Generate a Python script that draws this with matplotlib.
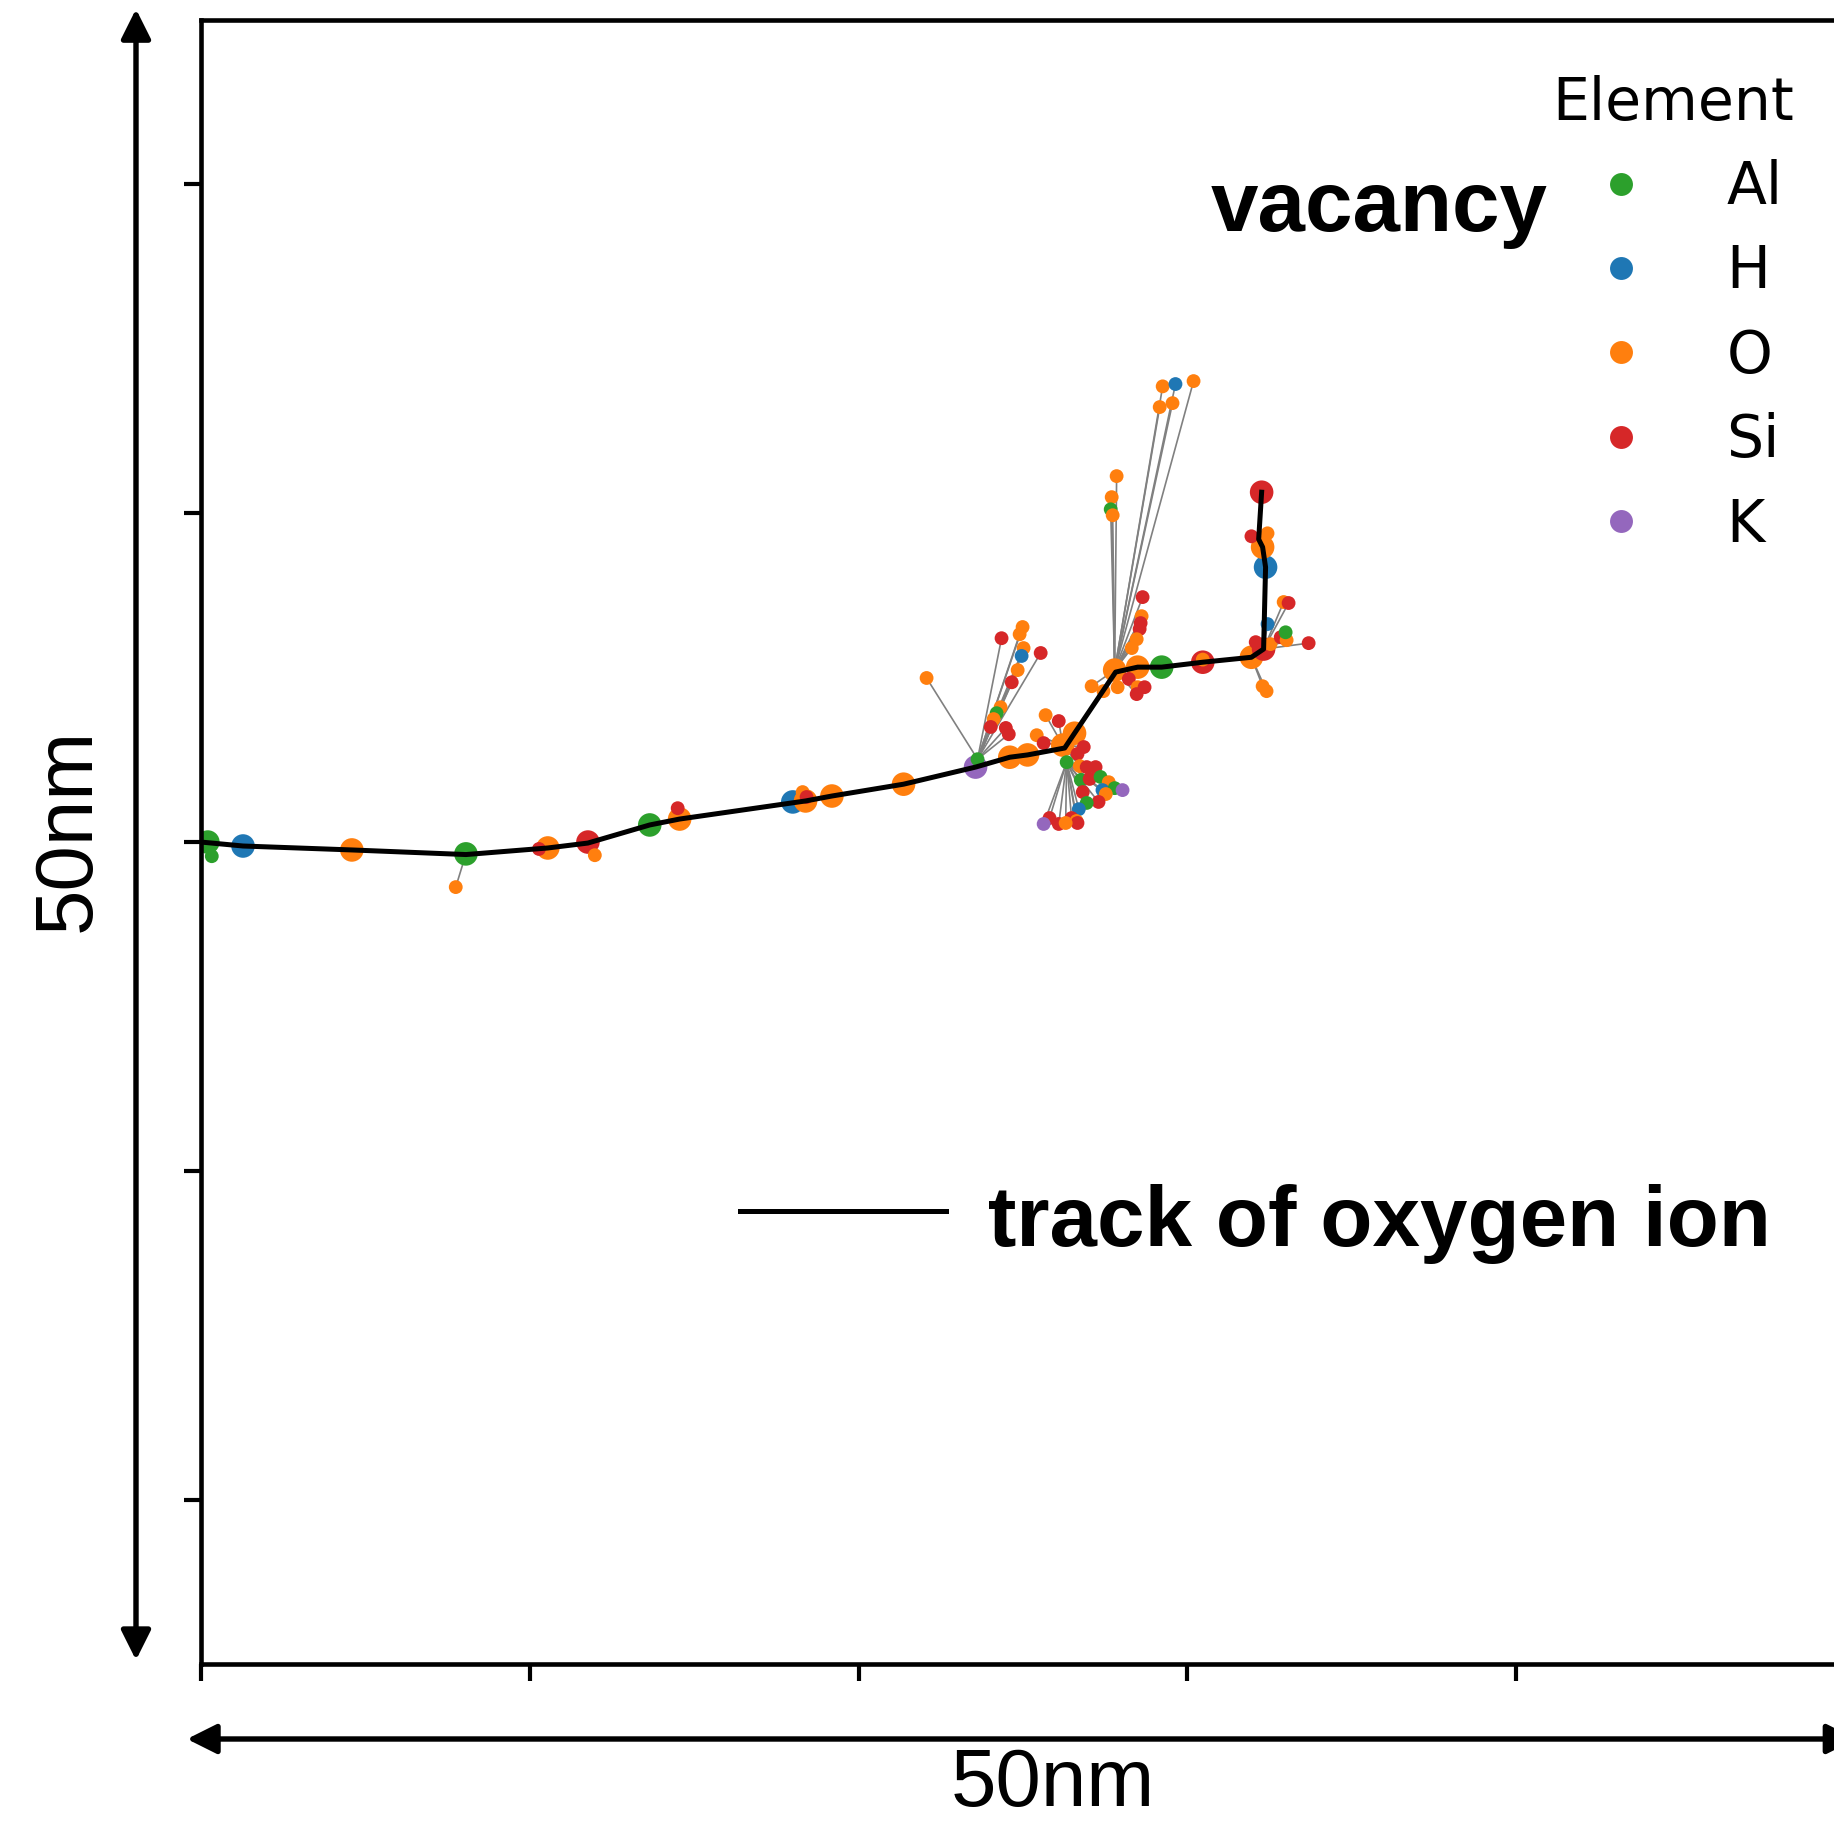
import matplotlib.pyplot as plt
from matplotlib.lines import Line2D

elements = ["Al", "H", "O", "Si", "K"]
element_colors = ["#2ca02c", "#1f77b4", "#ff7f0e", "#d62728", "#9467bd"]

# path of the oxygen ion (angstrom)
track_x = [0, 12.8, 45.9, 80.6, 105.5, 117.7, 136.5, 145.6, 183.9, 191.9, 213.7,
           235.6, 246.0, 251.4, 262.7, 265.7, 278.2, 284.9, 292.2, 304.7, 319.5,
           323.2, 323.8, 322.9, 321.7, 322.6]
track_y = [0, -1.2, -2.4, -3.8, -1.8, -0.3, 5.2, 7.0, 12.5, 14.0, 17.6,
           22.8, 25.8, 26.5, 28.6, 33.1, 51.7, 53.2, 53.2, 54.7, 56.2,
           58.7, 83.6, 89.7, 92.1, 106.4]

# primary knock-ons along the track
pka_x = [2.1, 12.8, 45.9, 80.6, 105.5, 117.7, 136.5, 145.6, 180.0, 183.9, 191.9,
         213.7, 235.6, 246.0, 251.4, 262.1, 265.7, 277.9, 284.9, 292.2, 304.7,
         319.5, 323.2, 323.8, 322.9, 322.6]
pka_y = [0.0, -1.2, -2.4, -3.6, -1.8, 0.0, 5.2, 7.0, 12.2, 12.5, 14.0,
         17.6, 22.8, 25.8, 26.5, 29.5, 33.1, 52.3, 53.2, 53.2, 54.7,
         56.2, 58.7, 83.6, 89.7, 106.4]
pka_el = ["Al", "H", "O", "Al", "O", "Si", "Al", "O", "H", "O", "O",
          "O", "K", "O", "O", "O", "O", "O", "O", "Al", "Si",
          "O", "Si", "H", "O", "Si"]

# recoils, source = index in pka list
rec_x = [3.3, 77.5, 102.8, 119.8, 145.0, 183.0, 184.2, 236.2,
         256.9, 260.9, 254.2, 256.3, 268.5, 266.6, 263.3, 267.3,
         270.9, 274.5, 278.8, 282.2, 284.9, 287.0, 284.6, 278.5, 277.0, 276.7,
         277.3, 292.5, 296.4, 301.9, 291.6, 295.5, 286.4, 286.1, 285.8, 285.5,
         284.6, 283.1,
         304.7, 322.9, 324.1,
         320.8, 325.3, 336.9, 328.4, 330.2, 329.9, 324.4, 329.3, 330.8,
         319.5, 324.4]
rec_y = [-4.3, -13.7, -2.1, -4.0, 10.3, 15.2, 13.7, 25.2,
         38.6, 36.8, 32.5, 30.1, 28.9, 26.8, 24.3, 23.1,
         47.4, 45.9, 47.1, 49.6, 47.1, 47.1, 45.0, 111.3, 104.9, 101.2,
         99.4, 138.6, 139.3, 140.2, 132.3, 133.5, 74.5, 68.7, 66.6, 64.8,
         61.7, 59.0,
         55.5, 47.4, 45.9,
         60.8, 60.2, 60.5, 62.3, 61.4, 63.8, 66.3, 73.0, 72.7,
         93.0, 93.9]
rec_el = ["Al", "O", "Si", "O", "Si", "O", "Si", "Al",
          "O", "Si", "O", "Si", "Si", "Si", "Al", "O",
          "O", "O", "O", "Si", "O", "Si", "Si", "O", "O", "Al",
          "O", "O", "H", "O", "O", "O", "Si", "O", "Si", "Si",
          "O", "O",
          "O", "O", "O",
          "Si", "O", "Si", "Si", "O", "Al", "H", "O", "Si",
          "Si", "O"]
rec_src = [0, 3, 4, 5, 7, 9, 9, 12,
           15, 15, 15, 15, 15, 15, 15, 15,
           17, 17, 17, 17, 17, 17, 17, 17, 17, 17,
           17, 17, 17, 17, 17, 17, 17, 17, 17, 17,
           17, 17,
           20, 21, 21,
           22, 22, 22, 22, 22, 22, 22, 22, 22,
           24, 24]

# secondary recoils, source = index in recoil list
sec_x = [220.7, 243.5, 249.0, 249.9, 250.2, 249.6, 255.4, 248.4, 246.6, 243.2,
         242.0, 241.1, 240.2, 244.8, 245.7,
         269.4, 272.1, 267.6, 270.3, 273.6, 276.1, 268.2, 274.2, 277.9, 280.3,
         275.2, 273.0, 269.4, 267.0, 264.8, 266.3, 266.6, 258.1, 256.3, 260.9,
         263.0]
sec_y = [49.9, 62.0, 63.2, 65.4, 59.0, 56.6, 57.5, 52.3, 48.6, 41.0,
         39.2, 37.4, 35.0, 34.7, 32.8,
         22.8, 22.8, 18.9, 19.2, 19.8, 18.2, 15.2, 15.8, 16.4, 15.8,
         14.6, 12.2, 11.9, 10.0, 7.3, 6.4, 5.8, 7.3, 5.5, 5.5,
         5.8]
sec_el = ["O", "Si", "O", "O", "O", "H", "Si", "O", "Si", "O",
          "Al", "O", "Si", "Si", "Si",
          "Si", "Si", "Al", "Si", "Al", "O", "Si", "H", "Al", "K",
          "O", "Si", "Al", "H", "Si", "O", "Si", "Si", "K", "Si",
          "O"]
sec_src = [7] * 15 + [14] * 21

color_of = dict(zip(elements, element_colors))

fig = plt.figure(figsize=(1835 / 300, 1825 / 300), dpi=300)
ax = fig.add_axes([0.1095, 0.0882, 0.8959, 0.9008])

for x, y, s in zip(rec_x, rec_y, rec_src):
    ax.plot([pka_x[s], x], [pka_y[s], y], color="gray", lw=0.4, zorder=1)
for x, y, s in zip(sec_x, sec_y, sec_src):
    ax.plot([rec_x[s], x], [rec_y[s], y], color="gray", lw=0.4, zorder=1)

ax.scatter(pka_x, pka_y, s=32, c=[color_of[e] for e in pka_el],
           edgecolors="none", zorder=2)
ax.scatter(rec_x, rec_y, s=11, c=[color_of[e] for e in rec_el],
           edgecolors="none", zorder=3)
ax.scatter(sec_x, sec_y, s=11, c=[color_of[e] for e in sec_el],
           edgecolors="none", zorder=3)
ax.plot(track_x, track_y, color="black", lw=1.2, zorder=4)

ax.set_xlim(0, 500)
ax.set_ylim(-250, 250)
ax.set_xticks([0, 100, 200, 300, 400])
ax.set_yticks([-200, -100, 0, 100, 200])
ax.set_xticklabels([])
ax.set_yticklabels([])
ax.tick_params(length=4, width=1.0)
for sp in ax.spines.values():
    sp.set_linewidth(1.1)

handles = [Line2D([], [], ls="", marker="o", markersize=5.5, color=c,
                  markeredgecolor="none") for c in element_colors]
ax.legend(handles, elements, title="Element", frameon=False, fontsize=14,
          title_fontsize=14, loc="upper right", bbox_to_anchor=(0.983, 0.981),
          borderaxespad=0, labelspacing=0.47)

bold = dict(family="Liberation Sans", fontweight="bold", fontsize=20.5)
ax.text(0.6144, 0.872, "vacancy", transform=ax.transAxes, va="baseline", **bold)
ax.plot([0.328, 0.453], [0.2755, 0.2755], color="black", lw=1.2,
        transform=ax.transAxes, clip_on=False)
ax.text(0.479, 0.254, "track of oxygen ion", transform=ax.transAxes,
        va="baseline", **bold)

arrow = dict(arrowstyle="<|-|>", color="black", lw=1.3, mutation_scale=15,
             shrinkA=0, shrinkB=0)
ax.annotate("", xy=(-0.0395, 0.0024), xytext=(-0.0395, 1.0067),
            xycoords="axes fraction", arrowprops=arrow, annotation_clip=False)
ax.annotate("", xy=(-0.0085, -0.0456), xytext=(1.007, -0.0456),
            xycoords="axes fraction", arrowprops=arrow, annotation_clip=False)

ax.text(-0.0802, 0.5076, "50nm", transform=ax.transAxes, rotation=90,
        ha="center", va="center", family="Liberation Sans", fontsize=19.6)
ax.text(0.518, -0.0862, "50nm", transform=ax.transAxes,
        ha="center", va="baseline", family="Liberation Sans", fontsize=19.6)

fig.savefig("out.png", dpi=300)
